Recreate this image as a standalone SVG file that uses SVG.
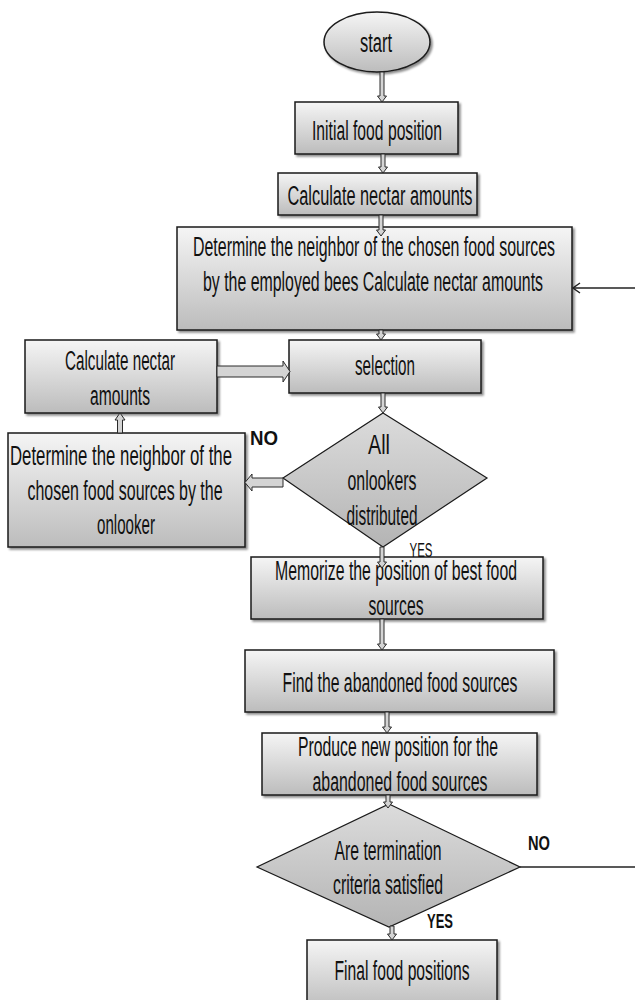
<svg xmlns="http://www.w3.org/2000/svg" width="635" height="1000" viewBox="0 0 635 1000">
<defs>
<linearGradient id="g" x1="0" y1="0" x2="0" y2="1">
<stop offset="0" stop-color="#f5f5f5"/>
<stop offset="1" stop-color="#bcbcbc"/>
</linearGradient>
<linearGradient id="gd" x1="0" y1="0" x2="0" y2="1">
<stop offset="0" stop-color="#dcdcdc"/>
<stop offset="1" stop-color="#b4b4b4"/>
</linearGradient>
<filter id="sh" x="-10%" y="-10%" width="130%" height="130%">
<feDropShadow dx="2" dy="2" stdDeviation="1.2" flood-color="#000" flood-opacity="0.45"/>
</filter>
</defs>
<style>
.box{fill:url(#g);stroke:#1a1a1a;stroke-width:1.5;filter:url(#sh)}
.dia{fill:url(#gd);stroke:#1a1a1a;stroke-width:1.2}
.t{font-family:"Liberation Sans",Arial,sans-serif;font-size:27px;fill:#111;text-anchor:middle}
.lb{font-family:"Liberation Sans",Arial,sans-serif;font-size:20px;font-weight:bold;fill:#111;text-anchor:middle}
.ar{fill:#d4d4d4;stroke:#2a2a2a;stroke-width:1}
.ln{fill:none;stroke:#222;stroke-width:1.5}
</style>
<rect width="635" height="1000" fill="#fff"/>

<g id="start">
<ellipse cx="377" cy="42" rx="53" ry="30" class="box"/>
<text class="t" x="376" y="52" textLength="32" lengthAdjust="spacingAndGlyphs">start</text>
</g>
<g id="initial">
<rect x="295" y="102" width="163" height="52" class="box"/>
<text class="t" x="377" y="140" textLength="130" lengthAdjust="spacingAndGlyphs">Initial food position</text>
</g>
<g id="calc1">
<rect x="278" y="173" width="199" height="42" class="box"/>
<text class="t" x="380" y="205" textLength="185" lengthAdjust="spacingAndGlyphs">Calculate nectar amounts</text>
</g>
<g id="employed">
<rect x="177" y="227" width="395" height="103" class="box"/>
<text class="t" x="374" y="256" textLength="362" lengthAdjust="spacingAndGlyphs">Determine the neighbor of the chosen food sources</text>
<text class="t" x="373" y="291" textLength="340" lengthAdjust="spacingAndGlyphs">by the employed bees Calculate nectar amounts</text>
</g>
<g id="selection">
<rect x="289" y="340" width="192" height="53" class="box"/>
<text class="t" x="385" y="375" textLength="60" lengthAdjust="spacingAndGlyphs">selection</text>
</g>
<g id="calc2">
<rect x="25" y="340" width="192" height="73" class="box"/>
<text class="t" x="120" y="370" textLength="110" lengthAdjust="spacingAndGlyphs">Calculate nectar</text>
<text class="t" x="120" y="405" textLength="60" lengthAdjust="spacingAndGlyphs">amounts</text>
</g>
<g id="onlooker">
<rect x="8" y="433" width="237" height="114" class="box"/>
<text class="t" x="121" y="465" textLength="222" lengthAdjust="spacingAndGlyphs">Determine the neighbor of the</text>
<text class="t" x="125" y="500" textLength="195" lengthAdjust="spacingAndGlyphs">chosen food sources by the</text>
<text class="t" x="126" y="534" textLength="58" lengthAdjust="spacingAndGlyphs">onlooker</text>
</g>
<g id="distributed">
<polygon points="383,413 487,478 383,547 283,478" class="dia"/>
<text class="t" x="379" y="454" textLength="22" lengthAdjust="spacingAndGlyphs">All</text>
<text class="t" x="382" y="490" textLength="69" lengthAdjust="spacingAndGlyphs">onlookers</text>
<text class="t" x="382" y="525" textLength="71" lengthAdjust="spacingAndGlyphs">distributed</text>
</g>
<g id="memorize">
<rect x="251" y="557" width="292" height="62" class="box"/>
<text class="t" x="396" y="580" textLength="242" lengthAdjust="spacingAndGlyphs">Memorize the position of best food</text>
<text class="t" x="396" y="615" textLength="55" lengthAdjust="spacingAndGlyphs">sources</text>
</g>
<g id="find">
<rect x="245" y="650" width="309" height="62" class="box"/>
<text class="t" x="400" y="692" textLength="235" lengthAdjust="spacingAndGlyphs">Find the abandoned food sources</text>
</g>
<g id="produce">
<rect x="262" y="733" width="275" height="62" class="box"/>
<text class="t" x="398" y="756" textLength="200" lengthAdjust="spacingAndGlyphs">Produce new position for the</text>
<text class="t" x="400" y="791" textLength="175" lengthAdjust="spacingAndGlyphs">abandoned food sources</text>
</g>
<g id="termination">
<polygon points="389,804 520,867 389,927 257,867" class="dia"/>
<text class="t" x="388" y="860" textLength="107" lengthAdjust="spacingAndGlyphs">Are termination</text>
<text class="t" x="388" y="894" textLength="110" lengthAdjust="spacingAndGlyphs">criteria satisfied</text>
</g>
<g id="final">
<rect x="307" y="940" width="190" height="70" class="box"/>
<text class="t" x="402" y="980" textLength="135" lengthAdjust="spacingAndGlyphs">Final food positions</text>
</g>

<g id="connectors">
<path class="ar" d="M380,72 V96 H377.5 L382,102 L386.5,96 H384 V72 Z"/>
<path class="ar" d="M381,154 V167 H378.5 L383,173 L387.5,167 H385 V154 Z"/>
<path class="ar" d="M379,215 V230 H376.5 L381,236 L385.5,230 H383 V215 Z"/>
<path class="ar" d="M379,330 V334 H376.5 L381,340 L385.5,334 H383 V330 Z"/>
<path class="ar" d="M381,393 V407 H378.5 L383,413 L387.5,407 H385 V393 Z"/>
<path class="ar" d="M380,547 V562 H377.5 L382,568 L386.5,562 H384 V547 Z"/>
<path class="ar" d="M380,619 V644 H377.5 L382,650 L386.5,644 H384 V619 Z"/>
<path class="ar" d="M385,712 V727 H382.5 L387,733 L391.5,727 H389 V712 Z"/>
<path class="ar" d="M386,795 V802 H383.5 L388,808 L392.5,802 H390 V795 Z"/>
<path class="ar" d="M390,926 V934 H387.5 L392,940 L396.5,934 H394 V926 Z"/>
<path class="ar" d="M117.5,433 V420 H115 L120,413 L125,420 H122.5 V433 Z"/>
<path class="ar" d="M217,366 H283 V361 L290,371.5 L283,382 V377 H217 Z"/>
<path class="ar" d="M283,478 H252 V474 L245,482.5 L252,491 V487 H283 Z"/>
<line class="ln" x1="635" y1="288" x2="573" y2="288"/>
<polyline class="ln" points="580,283 573,288 580,293"/>
<line class="ln" x1="520" y1="867" x2="635" y2="867"/>
</g>

<g id="labels">
<text class="lb" x="264" y="445" textLength="28" lengthAdjust="spacingAndGlyphs">NO</text>
<text class="t" style="font-size:21px" x="421" y="557" textLength="23" lengthAdjust="spacingAndGlyphs">YES</text>
<text class="lb" x="539" y="850" textLength="22" lengthAdjust="spacingAndGlyphs">NO</text>
<text class="lb" x="440" y="928" textLength="26" lengthAdjust="spacingAndGlyphs">YES</text>
</g>
</svg>
